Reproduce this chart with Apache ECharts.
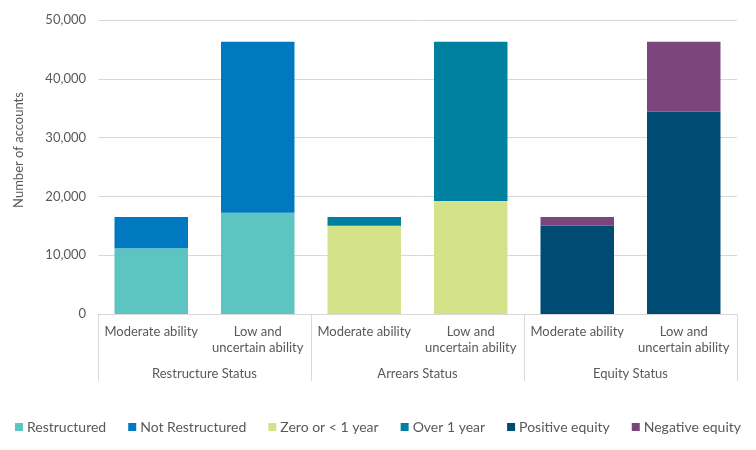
<!DOCTYPE html>
<html>
<head>
<meta charset="utf-8">
<script src="https://cdn.jsdelivr.net/npm/echarts@6/dist/echarts.min.js"></script>
<style>
html,body{margin:0;padding:0;background:#fff;}
#chart{width:756px;height:450px;}
</style>
</head>
<body>
<div id="chart"></div>
<script>
var categories = ['Moderate ability', 'Low and\nuncertain ability', 'Moderate ability', 'Low and\nuncertain ability', 'Moderate ability', 'Low and\nuncertain ability'];
var groups = ['Restructure Status', 'Arrears Status', 'Equity Status'];
var yTicks = [0, 10000, 20000, 30000, 40000, 50000];

var restructured    = [11200, 17200, null, null, null, null];
var notRestructured = [5300, 29100, null, null, null, null];
var zeroOrLess1     = [null, null, 15000, 19200, null, null];
var over1Year       = [null, null, 1500, 27100, null, null];
var positiveEquity  = [null, null, null, null, 15000, 34400];
var negativeEquity  = [null, null, null, null, 1500, 11900];

var seriesNames = ['Restructured', 'Not Restructured', 'Zero or < 1 year', 'Over 1 year', 'Positive equity', 'Negative equity'];
var seriesData = [restructured, notRestructured, zeroOrLess1, over1Year, positiveEquity, negativeEquity];
var colors = ['#5CC4C1', '#0079C1', '#D4E38A', '#00809F', '#004B74', '#7B467C'];

var textColor = '#595959';
var font = 'Lato';
var gridColor = '#D9D9D9';

var chart = echarts.init(document.getElementById('chart'));
chart.setOption({
  animation: false,
  color: colors,
  textStyle: { fontFamily: font, color: textColor },
  grid: { left: 98, right: 19, top: 20, bottom: 136, containLabel: false },
  legend: {
    bottom: 11,
    left: 'center',
    itemWidth: 8,
    itemHeight: 8,
    itemGap: 22,
    icon: 'rect',
    textStyle: { fontFamily: font, fontSize: 14, color: textColor, padding: [0, 0, 0, -1] },
    data: seriesNames
  },
  xAxis: [
    {
      type: 'category',
      data: categories,
      axisLine: { show: true, lineStyle: { color: gridColor } },
      axisTick: { show: false },
      axisLabel: { interval: 0, fontFamily: font, fontSize: 13, color: textColor, lineHeight: 16, margin: 10 }
    },
    {
      type: 'category',
      position: 'bottom',
      data: groups,
      axisLine: { show: false },
      axisTick: { show: true, interval: 0, length: 67, lineStyle: { color: gridColor } },
      axisLabel: { interval: 0, fontFamily: font, fontSize: 13, color: textColor, lineHeight: 16, margin: 52 }
    }
  ],
  yAxis: {
    type: 'value',
    min: yTicks[0],
    max: yTicks[yTicks.length - 1],
    interval: yTicks[1] - yTicks[0],
    name: 'Number of accounts',
    nameLocation: 'middle',
    nameGap: 73,
    nameTextStyle: { fontFamily: font, fontSize: 13, color: textColor, padding: [0, 0, 0, 34] },
    axisLine: { show: false },
    axisTick: { show: false },
    splitLine: { lineStyle: { color: gridColor } },
    axisLabel: {
      fontFamily: font, fontSize: 13, color: textColor, margin: 12,
      formatter: function (v) { return v.toLocaleString('en-US'); }
    }
  },
  series: seriesNames.map(function (n, i) {
    return {
      name: n,
      type: 'bar',
      stack: 'total',
      xAxisIndex: 0,
      barWidth: '69%',
      data: seriesData[i]
    };
  })
});
</script>
</body>
</html>
